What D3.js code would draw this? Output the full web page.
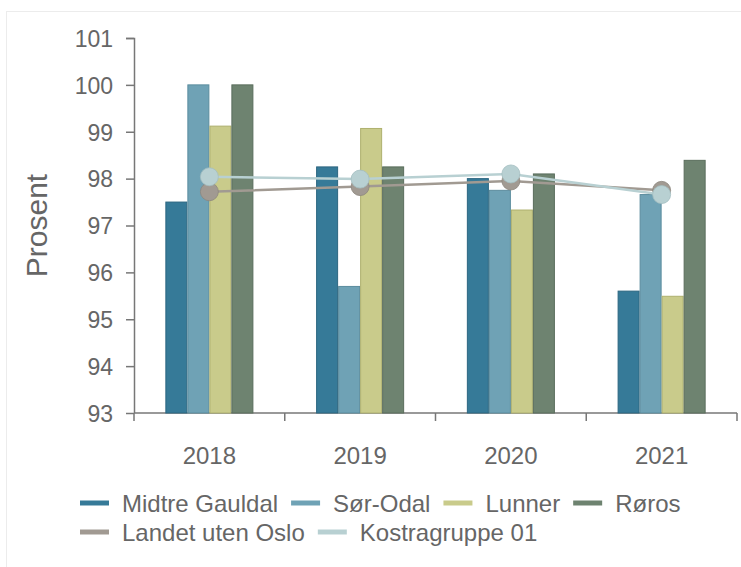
<!DOCTYPE html>
<html>
<head>
<meta charset="utf-8">
<script src="https://cdn.jsdelivr.net/npm/d3@7"></script>
<style>
  body { margin: 0; background: #fff; }
  text { font-family: "Liberation Sans", Arial, sans-serif; }
</style>
</head>
<body>
<div id="container"></div>
<script>
// chart data
const years = ["2018", "2019", "2020", "2021"]
const barSeries = ["Midtre Gauldal", "Sør-Odal", "Lunner", "Røros"]
const midtreGauldal = [97.5, 98.25, 98.0, 95.6]
const sorOdal = [100.0, 95.7, 97.75, 97.66]
const lunner = [99.12, 99.07, 97.33, 95.49]
const roros = [100.0, 98.25, 98.1, 98.39]
const lineSeries = ["Landet uten Oslo", "Kostragruppe 01"]
const landetUtenOslo = [97.72, 97.83, 97.95, 97.75]
const kostragruppe01 = [98.04, 97.99, 98.1, 97.66]
const yTicks = [93, 94, 95, 96, 97, 98, 99, 100, 101]

const barValues = [midtreGauldal, sorOdal, lunner, roros]
const lineValues = [landetUtenOslo, kostragruppe01]
const barColours = ["#367a98", "#6fa2b5", "#c9cb8b", "#6e8370"]
const barStrokes = ["#2c6680", "#5b8c9e", "#aeb06e", "#5a6d5c"]
const lineColours = ["#a19a92", "#b8d0d2"]
const lineStrokes = ["#8d867e", "#a3bec0"]

const W = 741, H = 567
const margin = { top: 38, right: 4, bottom: 154, left: 134 }
const width = W - margin.left - margin.right
const height = H - margin.top - margin.bottom

const root = d3.select("#container").append("svg")
  .attr("width", W)
  .attr("height", H)

// light frame round the chart
root.append("rect")
  .attr("x", 6.5).attr("y", 11.5)
  .attr("width", W).attr("height", H)
  .attr("fill", "none")
  .attr("stroke", "#ececec")

const svg = root.append("g")
  .attr("transform", "translate(" + margin.left + "," + margin.top + ")")

const x0 = d3.scaleBand().domain(years).range([0, width]).paddingInner(0.416).paddingOuter(0.208)
const x1 = d3.scaleBand().domain(barSeries).range([0, x0.bandwidth()])
const y = d3.scaleLinear().domain([93, 101]).range([height, 0])

// y axis
const yAxis = svg.append("g")
  .call(d3.axisLeft(y).tickValues(yTicks).tickSize(8).tickPadding(13).tickFormat(d3.format("d")))
yAxis.select(".domain").attr("stroke", "#777").attr("stroke-width", 1.5).attr("d", "M-8,0.5H0.5V" + height)
yAxis.selectAll(".tick line").attr("stroke", "#777").attr("stroke-width", 1.5)
yAxis.selectAll(".tick text").attr("fill", "#666").style("font-size", "23px").attr("dy", "0.36em")

// x axis: ticks on the band edges
const xAxis = svg.append("g").attr("transform", "translate(0," + height + ")")
xAxis.append("line")
  .attr("x1", 0).attr("x2", width)
  .attr("stroke", "#777").attr("stroke-width", 1.5)
const edges = years.map(d => x0(d) - x0.step() * x0.paddingInner() / 2).concat([width])
xAxis.selectAll(".edge")
  .data(edges)
  .enter()
  .append("line")
    .attr("x1", d => d).attr("x2", d => d)
    .attr("y1", 0).attr("y2", 8)
    .attr("stroke", "#777").attr("stroke-width", 1.5)
xAxis.selectAll(".yr")
  .data(years)
  .enter()
  .append("text")
    .attr("x", d => x0(d) + x0.bandwidth() / 2)
    .attr("y", 51)
    .attr("text-anchor", "middle")
    .attr("fill", "#666")
    .style("font-size", "24px")
    .text(d => d)

// y title
svg.append("text")
  .attr("transform", "translate(-87," + (height / 2) + ") rotate(-90)")
  .attr("text-anchor", "middle")
  .attr("fill", "#666")
  .style("font-size", "30px")
  .text("Prosent")

// bars
barSeries.forEach((s, i) => {
  svg.selectAll(".bar" + i)
    .data(years)
    .enter()
    .append("rect")
      .attr("x", d => x0(d) + x1(s) + 0.5)
      .attr("y", (d, j) => y(barValues[i][j]))
      .attr("width", x1.bandwidth() - 1)
      .attr("height", (d, j) => height - y(barValues[i][j]))
      .attr("fill", barColours[i])
      .attr("stroke", barStrokes[i])
      .attr("stroke-width", 1)
})

// lines with dots
const line = d3.line()
  .x((d, j) => x0(years[j]) + x0.bandwidth() / 2)
  .y(d => y(d))
lineSeries.forEach((s, i) => {
  svg.append("path")
    .datum(lineValues[i])
    .attr("d", line)
    .attr("fill", "none")
    .attr("stroke", lineColours[i])
    .attr("stroke-width", 2.5)
  svg.selectAll(".dot" + i)
    .data(lineValues[i])
    .enter()
    .append("circle")
      .attr("cx", (d, j) => x0(years[j]) + x0.bandwidth() / 2)
      .attr("cy", d => y(d))
      .attr("r", 9)
      .attr("fill", lineColours[i])
      .attr("stroke", lineStrokes[i])
      .attr("stroke-width", 0.8)
})

// legend, two rows, items laid out one after another
const legendRows = [
  barSeries.map((s, i) => ({ name: s, colour: barColours[i] })),
  lineSeries.map((s, i) => ({ name: s, colour: lineColours[i] }))
]
const legend = root.append("g")
legendRows.forEach((row, r) => {
  let cx = 80
  row.forEach(d => {
    const g = legend.append("g")
      .attr("transform", "translate(" + cx + "," + (503 + r * 29) + ")")
    g.append("line")
      .attr("x1", 0).attr("x2", 29)
      .attr("stroke", d.colour)
      .attr("stroke-width", 5)
    const t = g.append("text")
      .attr("x", 42)
      .attr("dy", "0.36em")
      .attr("fill", "#666")
      .style("font-size", "24px")
      .text(d.name)
    cx += 42 + t.node().getComputedTextLength() + 13
  })
})
</script>
</body>
</html>
